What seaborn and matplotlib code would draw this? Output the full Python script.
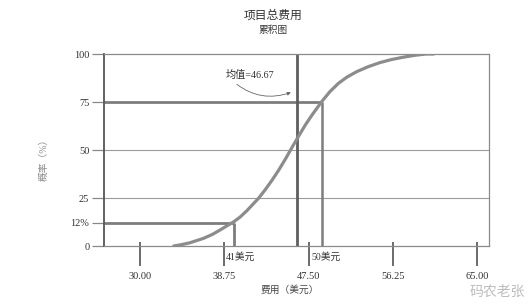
import matplotlib
matplotlib.use("Agg")
import matplotlib.pyplot as plt
import seaborn as sns
import pandas as pd
from matplotlib.ticker import FixedLocator

# ---- data ----
curve_cost = [33.5, 34.3, 35.2, 36.6, 37.5, 38.3, 39.76, 40.4, 41.1, 42.3, 43.0,
              43.7, 44.4, 45.1, 45.8, 46.5, 47.2, 47.9, 48.87, 49.7, 50.6,
              51.5, 52.5, 53.7, 54.9, 56.1, 57.3, 58.5, 59.7, 60.5]
curve_prob = [0, 0.7, 1.7, 4, 6, 8.3, 12.7, 15.1, 18.4, 24.8, 29.3,
              34.2, 39.5, 45.3, 51.5, 57.5, 63.3, 68.5, 75.2, 80.3, 84.7,
              88, 90.8, 93.4, 95.5, 97.1, 98.3, 99.3, 100, 100]

x_ticks = [30.00, 38.75, 47.50, 56.25, 65.00]
x_tick_labels = ["30.00", "38.75", "47.50", "56.25", "65.00"]
y_ticks = [0, 12, 25, 50, 75, 100]
y_tick_labels = ["0", "12%", "25", "50", "75", "100"]
grid_levels = [25, 50]

# marker lines as drawn on the chart (cost position, probability level)
low_cost, low_prob = 39.8, 12      # "41美元" / 12%
mean_cost = 46.3                   # 均值=46.67
high_cost, high_prob = 48.9, 75    # "50美元" / 75%

title = "项目总费用"
subtitle = "累积图"
xlabel = "费用（美元）"
ylabel = "概率（%）"
low_label = "41美元"
high_label = "50美元"
mean_label = "均值=46.67"
watermark = "码农老张"

# ---- style ----
sns.set_theme(style="white")
plt.rcParams["font.family"] = ["Liberation Serif", "Noto Sans CJK SC", "DejaVu Sans"]

fig = plt.figure(figsize=(5.32, 3.08), dpi=100)
ax = fig.add_axes([104 / 532, 1 - 246 / 308, 385 / 532, 192 / 308])
xlim = (26.26, 66.24)
ax.set_xlim(*xlim)
ax.set_ylim(0, 100)

# grid lines at 25 / 50
for g in grid_levels:
    ax.axhline(g, color="#9a9a9a", lw=0.8, zorder=1)

# marker lines
line_col = "#7d7d7d"
ax.hlines([high_prob], xlim[0], high_cost, color=line_col, lw=2.0, zorder=2)
ax.hlines([low_prob], xlim[0], low_cost, color=line_col, lw=2.0, zorder=2)
ax.vlines([low_cost], 0, low_prob, color=line_col, lw=2.0, zorder=2)
ax.vlines([high_cost], 0, high_prob, color=line_col, lw=1.8, zorder=2)
ax.vlines([mean_cost], 0, 100, color="#5e5e5e", lw=2.0, zorder=2)

# cumulative curve
df = pd.DataFrame({"cost": curve_cost, "prob": curve_prob})
sns.lineplot(data=df, x="cost", y="prob", ax=ax, color="#8c8c8c", lw=2.3,
             sort=False, estimator=None, zorder=3,
             solid_joinstyle="round", solid_capstyle="round")
ax.set_xlabel("")
ax.set_ylabel("")

# spines
for s in ["top", "right", "bottom"]:
    ax.spines[s].set_color("#8a8a8a")
    ax.spines[s].set_linewidth(0.9)
ax.spines["left"].set_color("#555555")
ax.spines["left"].set_linewidth(1.3)

# ticks
ax.set_xticks(x_ticks)
ax.set_xticklabels(x_tick_labels)
ax.xaxis.remove_overlapping_locs = False
ax.xaxis.set_minor_locator(FixedLocator(x_ticks))
ax.tick_params(axis="x", which="major", direction="out", length=14.5, width=1.1,
               color="#444444", pad=4, labelsize=7.5, labelcolor="#333333", bottom=True)
ax.tick_params(axis="x", which="minor", direction="in", length=3, width=1.1,
               color="#444444", bottom=True)
ax.set_yticks(y_ticks)
ax.set_yticklabels(y_tick_labels)
ax.tick_params(axis="y", direction="out", length=8.5, width=0.9, color="#888888",
               pad=2, labelsize=7.5, labelcolor="#333333", left=True)

# annotations
ax.text(38.95, -3.0, low_label, ha="left", va="top", fontsize=7, color="#333333")
ax.text(47.8, -3.0, high_label, ha="left", va="top", fontsize=7, color="#333333")
ax.annotate(mean_label, xy=(45.8, 80.2), xytext=(38.93, 89),
            ha="left", va="center", fontsize=7.3, color="#333333",
            arrowprops=dict(arrowstyle="-|>", color="#666666", lw=0.6,
                            mutation_scale=5, shrinkA=1, shrinkB=1,
                            relpos=(0.12, 0.0),
                            connectionstyle="arc3,rad=0.3"))

# titles and axis labels
fig.text(273 / 532, 1 - 16 / 308, title, ha="center", va="center", fontsize=8.5, color="#333333")
fig.text(273 / 532, 1 - 30.5 / 308, subtitle, ha="center", va="center", fontsize=7, color="#333333")
fig.text(44 / 532, 1 - 157 / 308, ylabel, ha="center", va="center", rotation=90,
         fontsize=7, color="#8a8a8a")
fig.text(290 / 532, 1 - 290 / 308, xlabel, ha="center", va="center", fontsize=7, color="#444444")
fig.text(497 / 532, 1 - 292 / 308, watermark, ha="center", va="center", fontsize=10,
         color="#b5b5b5", alpha=0.9)

fig.savefig("out.png", dpi=100)
